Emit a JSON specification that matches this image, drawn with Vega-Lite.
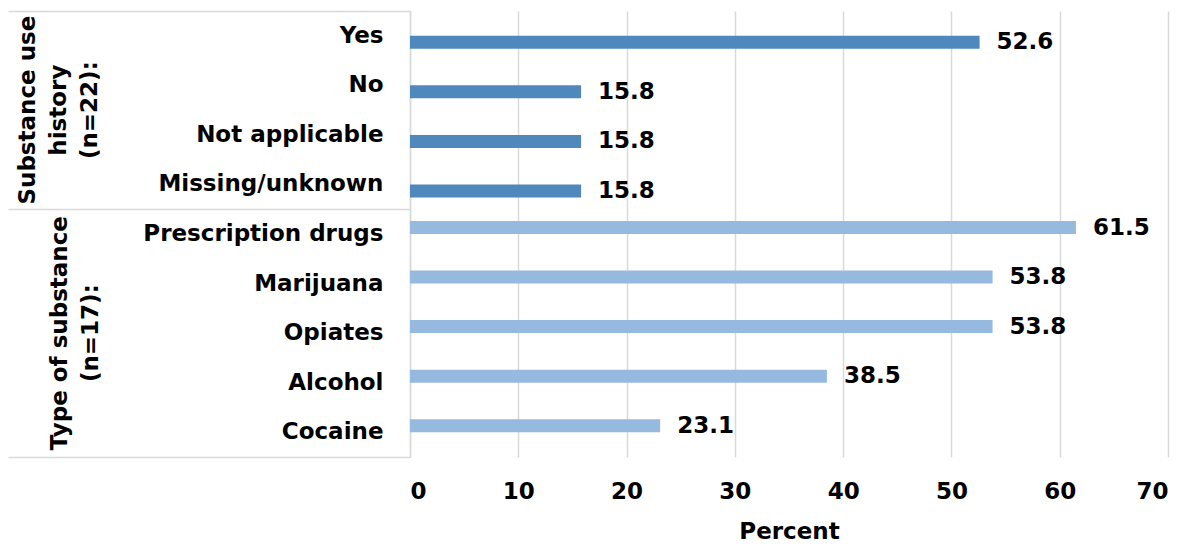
{
  "$schema": "https://vega.github.io/schema/vega-lite/v6.json",
  "width": 758,
  "height": 446,
  "autosize": {"type": "none"},
  "padding": {"left": 410, "top": 11, "right": 18, "bottom": 89},
  "background": "white",
  "config": {
    "font": "DejaVu Sans",
    "view": {"stroke": null},
    "axis": {"labelColor": "black", "titleColor": "black", "labelFontWeight": "bold", "titleFontWeight": "bold", "labelFontSize": 23, "titleFontSize": 23, "labelLimit": 0}
  },
  "data": {
    "values": [
      {"category": "Yes", "group": "history", "value": 52.6},
      {"category": "No", "group": "history", "value": 15.8},
      {"category": "Not applicable", "group": "history", "value": 15.8},
      {"category": "Missing/unknown", "group": "history", "value": 15.8},
      {"category": "Prescription drugs", "group": "type", "value": 61.5},
      {"category": "Marijuana", "group": "type", "value": 53.8},
      {"category": "Opiates", "group": "type", "value": 53.8},
      {"category": "Alcohol", "group": "type", "value": 38.5},
      {"category": "Cocaine", "group": "type", "value": 23.1}
    ]
  },
  "resolve": {"axis": {"y": "independent"}},
  "layer": [
    {
      "transform": [{"filter": "datum.group === 'history'"}],
      "mark": {"type": "bar"},
      "encoding": {
        "x": {
          "field": "value", "type": "quantitative",
          "scale": {"domain": [0, 70], "nice": false},
          "axis": {"values": [0, 10, 20, 30, 40, 50, 60, 70], "grid": true, "gridColor": "#d9d9d9", "gridWidth": 1.5, "domain": false, "ticks": false, "tickSize": 0, "labelPadding": 23, "title": "Percent", "titlePadding": 17}
        },
        "y": {
          "field": "category", "type": "nominal",
          "sort": ["Yes", "No", "Not applicable", "Missing/unknown", "Prescription drugs", "Marijuana", "Opiates", "Alcohol", "Cocaine"],
          "scale": {"paddingInner": 0, "paddingOuter": 0},
          "axis": {"orient": "left", "title": null, "ticks": false, "tickSize": 0, "domain": true, "domainColor": "#d9d9d9", "domainWidth": 1.5, "grid": false, "labelPadding": 27}
        },
        "yOffset": {"field": "group", "type": "nominal", "sort": ["type", "history"], "scale": {"paddingInner": 0, "paddingOuter": 0.908}},
        "color": {"field": "group", "type": "nominal", "scale": {"domain": ["history", "type"], "range": ["#4F88BC", "#96B9E0"]}, "legend": null}
      }
    },
    {
      "transform": [{"filter": "datum.group === 'type'"}],
      "mark": {"type": "bar"},
      "encoding": {
        "x": {"field": "value", "type": "quantitative"},
        "y": {
          "field": "category", "type": "nominal",
          "sort": ["Yes", "No", "Not applicable", "Missing/unknown", "Prescription drugs", "Marijuana", "Opiates", "Alcohol", "Cocaine"],
          "axis": {"orient": "left", "title": null, "domain": false, "grid": false, "labels": false, "ticks": true,
                   "values": ["Yes", "Missing/unknown", "Cocaine"], "bandPosition": 1, "tickExtra": true,
                   "tickSize": 402, "tickColor": "#d9d9d9", "tickWidth": 1.5,
                   "tickOpacity": {"condition": {"test": "datum.value === 'Yes'", "value": 0}, "value": 1}}
        },
        "yOffset": {"field": "group", "type": "nominal", "sort": ["type", "history"]},
        "color": {"field": "group", "type": "nominal", "legend": null}
      }
    },
    {
      "transform": [{"filter": "datum.group === 'history'"}],
      "mark": {"type": "text", "align": "left", "baseline": "middle", "dx": 17, "fontSize": 23, "fontWeight": "bold", "color": "black"},
      "encoding": {
        "x": {"field": "value", "type": "quantitative"},
        "y": {
          "field": "category", "type": "nominal",
          "sort": ["Yes", "No", "Not applicable", "Missing/unknown", "Prescription drugs", "Marijuana", "Opiates", "Alcohol", "Cocaine"],
          "axis": {"orient": "left", "title": null, "domain": false, "grid": false, "ticks": false, "tickSize": 0,
                   "values": ["Not applicable"], "labelOffset": -24.78,
                   "labelExpr": "['Substance use', 'history', '(n=22):']",
                   "labelAngle": 270, "labelAlign": "center", "labelBaseline": "bottom", "labelLineHeight": 31, "labelPadding": 371}
        },
        "yOffset": {"field": "group", "type": "nominal", "sort": ["type", "history"]},
        "text": {"field": "value", "type": "quantitative", "format": ".1f"}
      }
    },
    {
      "transform": [{"filter": "datum.group === 'type'"}],
      "mark": {"type": "text", "align": "left", "baseline": "middle", "dx": 17, "fontSize": 23, "fontWeight": "bold", "color": "black"},
      "encoding": {
        "x": {"field": "value", "type": "quantitative"},
        "y": {
          "field": "category", "type": "nominal",
          "sort": ["Yes", "No", "Not applicable", "Missing/unknown", "Prescription drugs", "Marijuana", "Opiates", "Alcohol", "Cocaine"],
          "axis": {"orient": "left", "title": null, "domain": false, "grid": false, "ticks": false, "tickSize": 0,
                   "values": ["Opiates"],
                   "labelExpr": "['Type of substance', '(n=17):']",
                   "labelAngle": 270, "labelAlign": "center", "labelBaseline": "bottom", "labelLineHeight": 31, "labelPadding": 339}
        },
        "yOffset": {"field": "group", "type": "nominal", "sort": ["type", "history"]},
        "text": {"field": "value", "type": "quantitative", "format": ".1f"}
      }
    }
  ]
}
